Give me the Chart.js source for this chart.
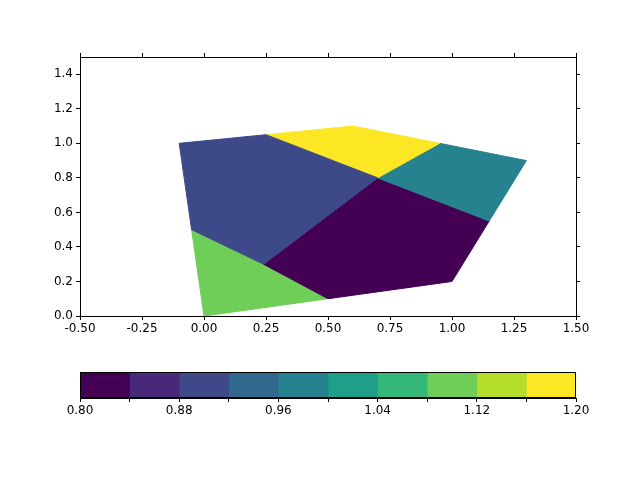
<!DOCTYPE html>
<html><head><script src="https://cdn.jsdelivr.net/npm/chart.js@4"></script>
<style>body{margin:0;background:#fff}canvas{position:absolute;left:0}</style></head>
<body>
<canvas id="c1" width="640" height="340" style="top:0"></canvas>
<canvas id="c2" width="640" height="90" style="top:360px"></canvas>
<script>
const pts={A:[-0.1,1.0],B:[0.25,1.05],C:[0.6,1.1],D:[0.95,1.0],E:[1.3,0.9],F:[1.15,0.55],G:[1.0,0.2],H:[0.5,0.1],I:[0.0,0.0],J:[-0.05,0.5],K:[0.7,0.8],L:[0.24,0.3]};
const polygons=[["A","B","K","L","J"],["B","C","D","K"],["D","E","F","K"],["K","F","G","H","L"],["J","L","H","I"]];
const polyValues=[0.9,1.19,0.98,0.81,1.1];
const binEdges=[0.8,0.84,0.88,0.92,0.96,1.0,1.04,1.08,1.12,1.16,1.2];
const binColors=["#440154","#482878","#3e4989","#31688e","#26828e","#1f9e89","#35b779","#6ece58","#b5de2b","#fde725"];
const yTicks=[0,0.2,0.4,0.6,0.8,1.0,1.2,1.4];
function colorFor(v){let i=Math.min(binColors.length-1,Math.max(0,Math.floor((v-0.8)/0.04)));return binColors[i];}
Chart.defaults.font.family="DejaVu Sans";Chart.defaults.font.size=12;Chart.defaults.color="#000";
Chart.defaults.animation=false;
const tk={drawOnChartArea:false,drawTicks:true,tickLength:4,color:"#000"};
const bd={color:"#000",width:1};
const setY=s=>{s.ticks=yTicks.map(v=>({value:v}));};
new Chart(document.getElementById('c1'),{type:'scatter',
data:{datasets:polygons.map((p,i)=>{const d=p.map(k=>({x:pts[k][0],y:pts[k][1]}));d.push(d[0]);const c=colorFor(polyValues[i]);
return {data:d,showLine:true,fill:'shape',backgroundColor:c,borderColor:c,borderWidth:1,pointRadius:0,tension:0};})},
options:{responsive:false,plugins:{legend:{display:false},tooltip:{enabled:false}},layout:{padding:0},
scales:{
x:{type:'linear',min:-0.5,max:1.5,ticks:{stepSize:0.25,callback:v=>v.toFixed(2),maxRotation:0,padding:2},grid:tk,border:bd,afterFit:s=>{s.height=24}},
x2:{type:'linear',position:'top',min:-0.5,max:1.5,ticks:{stepSize:0.25,display:false},grid:tk,border:bd,afterFit:s=>{s.height=57}},
y:{min:0,max:1.5,afterBuildTicks:setY,ticks:{callback:v=>v.toFixed(1),padding:3},grid:tk,border:bd,afterFit:s=>{s.width=80}},
y2:{position:'right',min:0,max:1.5,afterBuildTicks:setY,ticks:{display:false},grid:tk,border:bd,afterFit:s=>{s.width=64}}
}}});
const frame={id:'frame',afterDatasetsDraw(ch){const a=ch.chartArea,c=ch.ctx;c.save();c.strokeStyle='#000';c.lineWidth=1;c.strokeRect(a.left+0.5,a.top+0.5,a.right-a.left-1,a.bottom-a.top-1);c.restore();}};
new Chart(document.getElementById('c2'),{type:'bar',
data:{labels:['cb'],datasets:binColors.map((c,i)=>({data:[[binEdges[i],binEdges[i+1]]],backgroundColor:c,grouped:false,barPercentage:1,categoryPercentage:1,borderWidth:0}))},
options:{indexAxis:'y',responsive:false,plugins:{legend:{display:false},tooltip:{enabled:false}},layout:{padding:{left:80,right:64,top:12}},
scales:{
x:{type:'linear',min:0.8,max:1.2,ticks:{stepSize:0.04,autoSkip:false,maxRotation:0,padding:2,callback:v=>{const r=Math.round(v*100);return (r-80)%8===0?(r/100).toFixed(2):'';}},grid:tk,border:bd,afterFit:s=>{s.height=52}},
y:{display:false}
}},plugins:[frame]});
</script></body></html>
